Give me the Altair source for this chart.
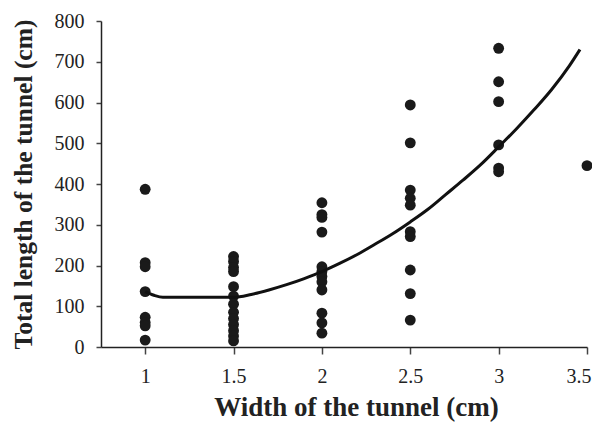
import altair as alt
import pandas as pd

# Scatter data (width of tunnel, total length)
x_1 = [1.0] * 8
y_1 = [387, 207, 197, 136, 73, 60, 52, 17]
x_15 = [1.5] * 13
y_15 = [222, 210, 195, 185, 148, 125, 105, 85, 70, 55, 40, 27, 15]
x_2 = [2.0] * 12
y_2 = [354, 325, 318, 282, 197, 185, 173, 160, 140, 83, 59, 34]
x_25 = [2.5] * 10
y_25 = [594, 501, 385, 365, 348, 283, 271, 189, 131, 66]
x_3 = [3.0] * 6
y_3 = [733, 651, 602, 496, 439, 430]
x_35 = [3.5]
y_35 = [445]

# Fitted curve
curve_x = [1.0, 1.05, 1.1, 1.2, 1.3, 1.4, 1.5, 1.6, 1.7, 1.8, 1.9, 2.0, 2.1, 2.2,
           2.3, 2.4, 2.5, 2.6, 2.7, 2.8, 2.9, 3.0, 3.1, 3.2, 3.3, 3.4, 3.46]
curve_y = [136, 127, 122, 122, 122, 122, 122, 129, 140, 153, 168, 185, 205, 227,
           252, 278, 307, 338, 374, 410, 448, 491, 535, 582, 632, 690, 730]

x_ticks = [1, 1.5, 2, 2.5, 3, 3.5]
y_ticks = [0, 100, 200, 300, 400, 500, 600, 700, 800]

pts = pd.DataFrame({
    "w": x_1 + x_15 + x_2 + x_25 + x_3 + x_35,
    "l": y_1 + y_15 + y_2 + y_25 + y_3 + y_35,
})
crv = pd.DataFrame({"w": curve_x, "l": curve_y})

FONT = "Liberation Serif"

xenc = alt.X("w:Q", scale=alt.Scale(domain=[0.75, 3.5], nice=False, zero=False),
             axis=alt.Axis(values=x_ticks, format="~g", title="Width of the tunnel (cm)",
                           grid=False, tickSize=7, labelPadding=12, titlePadding=8,
                           labelFlush=True, labelFlushOffset=4,
                           titleFontSize=27, titleX=255))
yenc = alt.Y("l:Q", scale=alt.Scale(domain=[0, 800], nice=False),
             axis=alt.Axis(values=y_ticks, title="Total length of the tunnel (cm)",
                           grid=False, tickSize=5, labelPadding=12, titlePadding=18,
                           titleFontSize=25.5))

points = alt.Chart(pts).mark_circle(size=118, color="#1a1a1a", opacity=1).encode(x=xenc, y=yenc)
line = alt.Chart(crv).mark_line(color="#111111", strokeWidth=3, interpolate="monotone").encode(
    x="w:Q", y="l:Q")

chart = alt.layer(points, line).properties(
    width=486, height=326,
    autosize=alt.AutoSizeParams(type="none"),
    padding={"left": 93, "top": 13, "right": 5, "bottom": 75},
).configure_view(stroke=None).configure_axis(
    domainColor="#222222", tickColor="#444444", labelColor="#222222",
    labelFont=FONT, titleFont=FONT, labelFontSize=20,
    titleFontWeight="bold", titleColor="#222222", domainWidth=1.5, tickWidth=1.5,
)

chart.save("out.html", embed_options={"renderer": "svg", "actions": False})
